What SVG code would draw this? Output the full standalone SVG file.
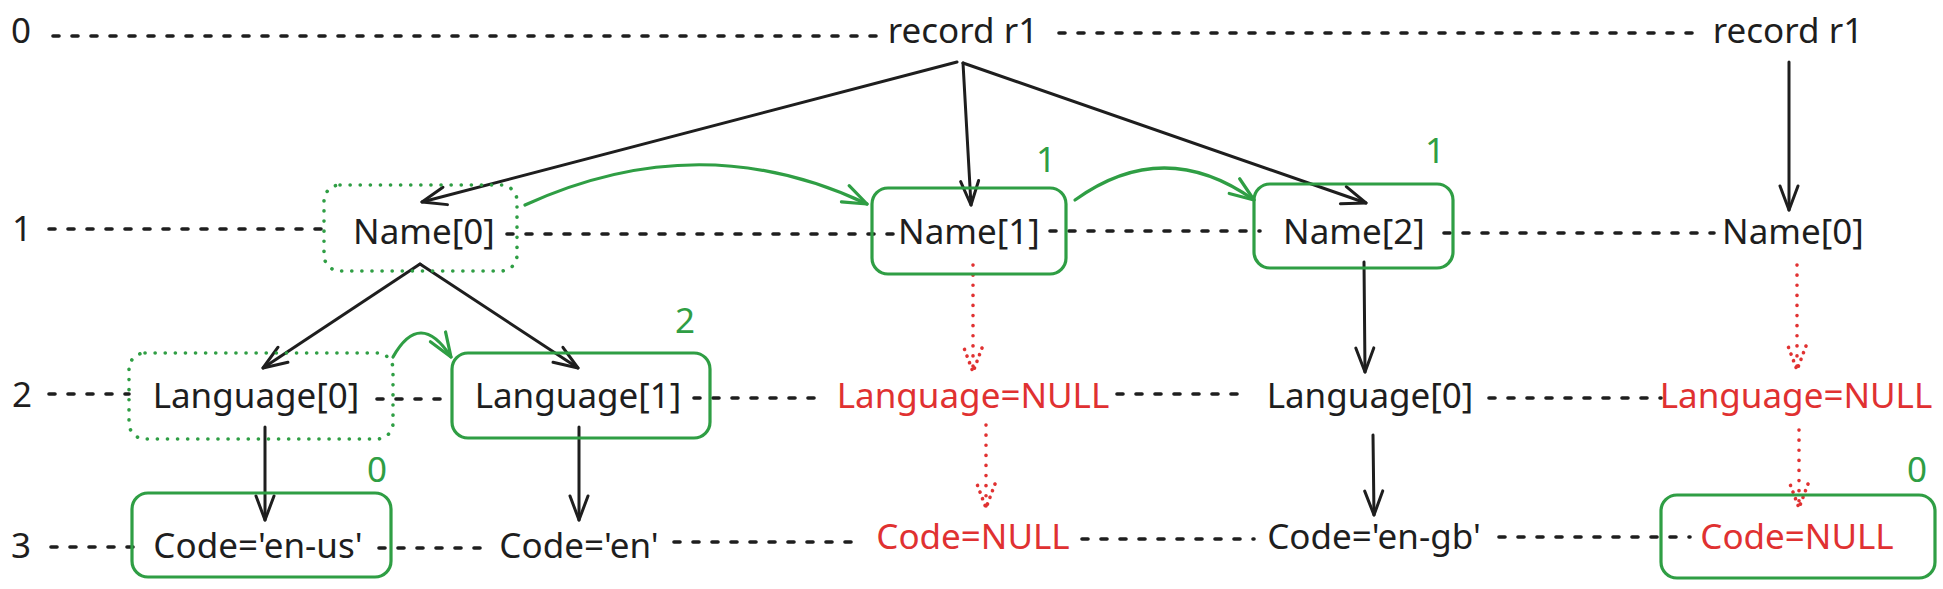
<svg xmlns="http://www.w3.org/2000/svg" width="1943" height="589" viewBox="0 0 1943 589">
<style>
text{font-family:"Noto Sans","DejaVu Sans",sans-serif;font-size:35px;text-anchor:middle;fill:#1e1e1e}
.red{fill:#e03131}
.gn{fill:#2f9e44}
.lvl{stroke:#1e1e1e;stroke-width:3.6;fill:none;stroke-dasharray:6 13;stroke-linecap:round}
.box{fill:none;stroke:#2f9e44;stroke-width:3.2}
.dotbox{fill:none;stroke:#2f9e44;stroke-width:3.6;stroke-dasharray:0.1 10;stroke-linecap:round}
.arr{fill:none;stroke:#1e1e1e;stroke-width:3;stroke-linecap:round;marker-end:url(#ah)}
.garr{fill:none;stroke:#2f9e44;stroke-width:3.2;stroke-linecap:round;marker-end:url(#gah)}
.rarr{fill:none;stroke:#e03131;stroke-width:3.6;stroke-linecap:round;stroke-dasharray:0.1 10;marker-end:url(#rah)}
</style>
<defs>
<marker id="ah" markerUnits="userSpaceOnUse" orient="auto" markerWidth="40" markerHeight="40" viewBox="-32 -20 40 40" refX="0" refY="0">
<path d="M-24,-9 L0,0 L-24,9" fill="none" stroke="#1e1e1e" stroke-width="3" stroke-linecap="round" stroke-linejoin="round"/>
</marker>
<marker id="gah" markerUnits="userSpaceOnUse" orient="auto" markerWidth="40" markerHeight="40" viewBox="-32 -20 40 40" refX="0" refY="0">
<path d="M-24,-9 L0,0 L-24,9" fill="none" stroke="#2f9e44" stroke-width="3.2" stroke-linecap="round" stroke-linejoin="round"/>
</marker>
<marker id="rah" markerUnits="userSpaceOnUse" orient="auto" markerWidth="40" markerHeight="40" viewBox="-32 -20 40 40" refX="0" refY="0">
<path d="M-24,-9 L0,0 L-24,9" fill="none" stroke="#e03131" stroke-width="3.6" stroke-linecap="round" stroke-dasharray="0.1 7"/>
</marker>
</defs>
<rect width="1943" height="589" fill="#ffffff"/>

<g id="levels">
<text x="21" y="43">0</text>
<text x="22" y="241">1</text>
<text x="22" y="407">2</text>
<text x="21" y="558">3</text>
<path class="lvl" d="M53,36 H876 M1059,33 H1702"/>
<path class="lvl" d="M49,229 H321 M507,234 H896 M1050,231 H1260 M1444,233 H1714"/>
<path class="lvl" d="M49,394 H129 M377,399 H453 M694,398 H827 M1117,394 H1249 M1489,398 H1661"/>
<path class="lvl" d="M51,547 H134 M379,548 H489 M674,542 H861 M1082,539 H1254 M1499,537 H1690"/>
</g>

<g id="connectors">
<path class="arr" d="M957,62 L422,202"/>
<path class="arr" d="M963,63 L971,205"/>
<path class="arr" d="M963,63 L1366,203"/>
<path class="arr" d="M1789,62 L1789,210"/>
<path class="arr" d="M420,264 L263,368"/>
<path class="arr" d="M420,264 L578,368"/>
<path class="arr" d="M265,427 L265,520"/>
<path class="arr" d="M579,427 L579,520"/>
<path class="arr" d="M1364,262 L1365,372"/>
<path class="arr" d="M1373,435 L1374,515"/>
<path class="rarr" d="M973,265 L973,372"/>
<path class="rarr" d="M986,425 L986,508"/>
<path class="rarr" d="M1797,265 L1797,370"/>
<path class="rarr" d="M1799,430 L1799,508"/>
<path class="garr" d="M525,205 Q700,125 867,204"/>
<path class="garr" d="M1075,200 Q1164,136 1254,200"/>
<path class="garr" d="M393,357 Q420,309 451,357"/>
</g>

<g id="record-r1"><text x="963" y="43">record r1</text></g>
<g id="record-r1-b"><text x="1788" y="43">record r1</text></g>

<g id="name0">
<rect class="dotbox" x="324" y="185" width="193" height="86" rx="16"/>
<text x="424" y="244">Name[0]</text>
</g>
<g id="name1">
<rect class="box" x="872" y="188" width="194" height="86" rx="16"/>
<text x="969" y="244">Name[1]</text>
<text class="gn" x="1046" y="172">1</text>
</g>
<g id="name2">
<rect class="box" x="1254" y="184" width="199" height="84" rx="16"/>
<text x="1354" y="244">Name[2]</text>
<text class="gn" x="1435" y="163">1</text>
</g>
<g id="name0-b"><text x="1793" y="244">Name[0]</text></g>

<g id="lang0">
<rect class="dotbox" x="129" y="353" width="264" height="86" rx="16"/>
<text x="256" y="408">Language[0]</text>
</g>
<g id="lang1">
<rect class="box" x="452" y="353" width="258" height="85" rx="16"/>
<text x="578" y="408">Language[1]</text>
<text class="gn" x="685" y="333">2</text>
</g>
<g id="lang-null"><text class="red" x="973" y="408">Language=NULL</text></g>
<g id="lang0-b"><text x="1370" y="408">Language[0]</text></g>
<g id="lang-null-b"><text class="red" x="1796" y="408">Language=NULL</text></g>

<g id="code-en-us">
<rect class="box" x="132" y="493" width="259" height="84" rx="16"/>
<text x="258" y="558">Code='en-us'</text>
<text class="gn" x="377" y="482">0</text>
</g>
<g id="code-en"><text x="579" y="558">Code='en'</text></g>
<g id="code-null"><text class="red" x="973" y="549">Code=NULL</text></g>
<g id="code-en-gb"><text x="1374" y="549">Code='en-gb'</text></g>
<g id="code-null-b">
<rect class="box" x="1661" y="495" width="274" height="83" rx="16"/>
<text class="red" x="1797" y="549">Code=NULL</text>
<text class="gn" x="1917" y="482">0</text>
</g>
</svg>
